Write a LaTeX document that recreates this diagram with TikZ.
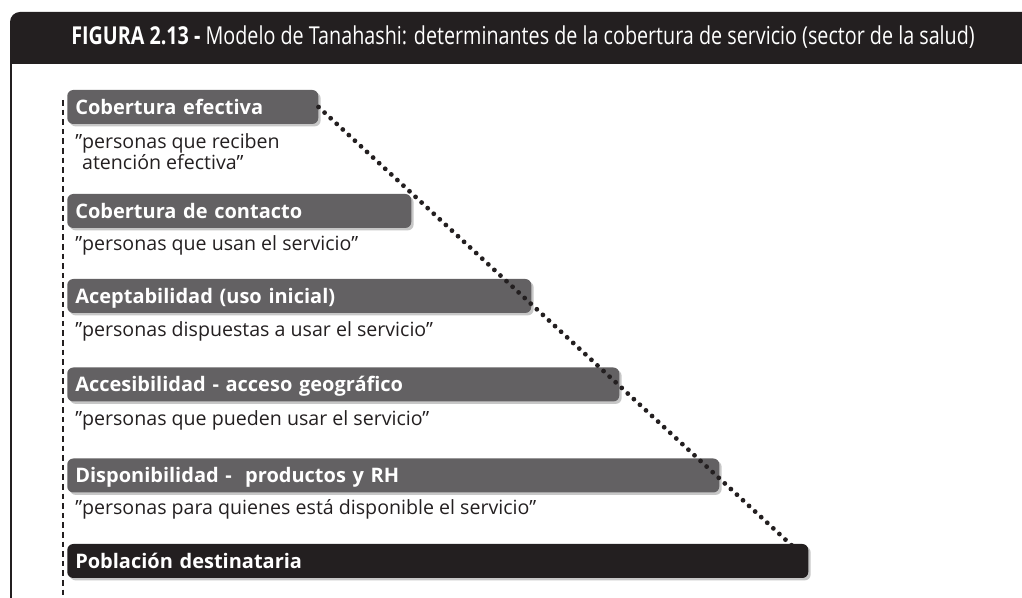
\documentclass[tikz,border=0pt]{standalone}
\usepackage{fontspec}
\setmainfont{Open Sans}
\newfontfamily\hdrfont[FakeStretch=0.80]{Open Sans}
\usepackage{tikz}
\usetikzlibrary{shadows,positioning}
\definecolor{inkdark}{HTML}{231F20}
\definecolor{bargray}{HTML}{636163}

\begin{document}
\begin{tikzpicture}[x=0.75pt,y=-0.75pt,
  bar/.style={rectangle,rounded corners=4.5pt,fill=bargray,text=white,
              anchor=west,align=left,inner xsep=6pt,inner ysep=0pt,
              minimum height=25.5pt,text height=10.6pt,text depth=0pt,
              font=\fontsize{15}{18}\selectfont\bfseries,
              drop shadow={shadow xshift=1.8pt,shadow yshift=-1.8pt,
                           opacity=0.22,fill=black}},
  desc/.style={anchor=base west,align=left,inner xsep=5.25pt,inner ysep=0pt,
               text=inkdark,font=\fontsize{14.7}{16}\selectfont},
  dotline/.style={inkdark,line width=3.6pt,line cap=round,
                  dash pattern=on 0pt off 6.2pt}]
\useasboundingbox (0,0) rectangle (1022,598);
%% ── Frame: title band and left rule ─────────────────────────────────────
\fill[inkdark] (10,64) -- (10,30) {[rounded corners=7.5pt] -- (10,12)
  -- (1040,12)} -- (1040,64) -- cycle;
\draw[inkdark,line width=1.6pt] (11,63) -- (11,598);
\node[anchor=base west,inner sep=0pt,text=white,
      font=\hdrfont\fontsize{18.5}{21}\selectfont](hdr) at (71,45)
  {\textbf{FIGURA 2.13 -} Modelo de Tanahashi: determinantes de la cobertura de servicio (sector de la salud)};
%% ── Dashed guide along the bar origins ──────────────────────────────────
\draw[inkdark,line width=0.8pt,dash pattern=on 4.2pt off 3pt] (63,100) -- (63,598);
%% ── Bars, widest at the bottom ──────────────────────────────────────────
\node[bar,text width=176.25pt](efec) at (67,107) {Cobertura efectiva};
\node[bar,text width=246pt](cont) at (67,211) {Cobertura de contacto};
\node[bar,text width=336pt](acep) at (67,296) {Aceptabilidad (uso inicial)};
\node[bar,text width=402pt](acce) at (67,384.5) {Accesibilidad - acceso geográfico};
\node[bar,text width=477pt](disp) at (67,475.5) {Disponibilidad -\ \ productos y RH};
\node[bar,text width=543.75pt,fill=inkdark](pobl) at (67,561) {Población destinataria};
%% ── Descriptions under each bar (base = last line) ──────────────────────
\node[desc](efecTxt) at (68,170)
  {”personas que reciben\\\phantom{”}atención efectiva”};
\node[desc](contTxt) at (68,251) {”personas que usan el servicio”};
\node[desc](acepTxt) at (68,337) {”personas dispuestas a usar el servicio”};
\node[desc](acceTxt) at (68,426) {”personas que pueden usar el servicio”};
\node[desc](dispTxt) at (68,515) {”personas para quienes está disponible el servicio”};
%% ── Dotted envelope over the bar ends ───────────────────────────────────
\draw[dotline] (efec.east) -- (pobl.east);
\end{tikzpicture}
\end{document}
